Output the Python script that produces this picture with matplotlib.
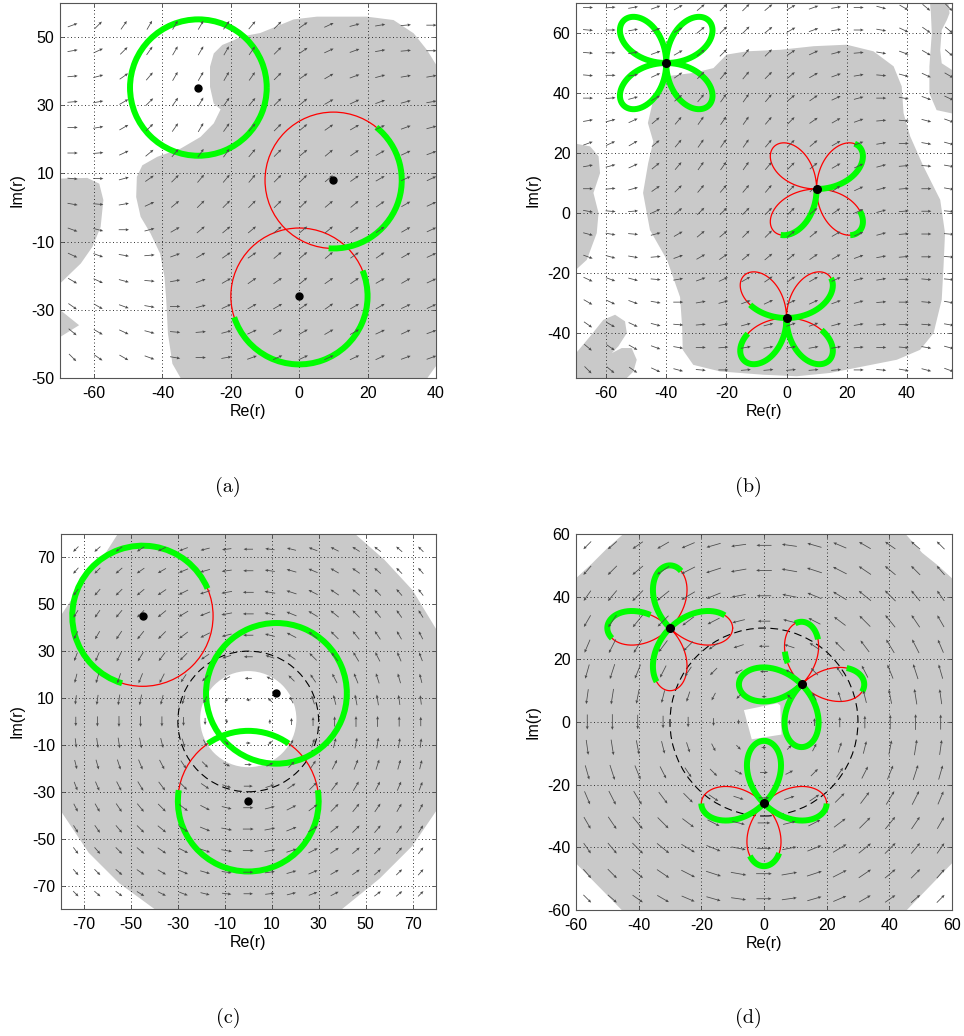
import numpy as np
import matplotlib
matplotlib.use("Agg")
import matplotlib.pyplot as plt
from matplotlib.patches import Arc, Circle

plt.rcParams["font.family"] = ["Liberation Sans", "DejaVu Sans"]
plt.rcParams["axes.unicode_minus"] = False

# ----------------------------------------------------------------------
# Panel (a): circular trajectories, radius 20
# ----------------------------------------------------------------------
A_XLIM = (-70, 40)
A_YLIM = (-50, 60)
A_XTICKS = [-60, -40, -20, 0, 20, 40]
A_YTICKS = [-50, -30, -10, 10, 30, 50]

A_REGION_MAIN_X = [-17.2, -11.4, -5.5, -1.6, 5.2, 19.8, 27.6, 33.5, 37.4, 40.0, 40.0, 37.5,
                   -34.7, -37.1, -38.4, -38.9, -39.4, -40.7, -43.5, -46.4, -47.7, -47.5,
                   -45.9, -41.5, -34.7, -28.9, -25.0, -23.0, -25.0, -26.1, -26.1, -25.0,
                   -22.5, -19.1]
A_REGION_MAIN_Y = [50.1, 51.2, 53.6, 55.2, 56.0, 56.0, 55.0, 51.1, 46.2, 42.0, -46.5, -50.0,
                   -50.0, -45.8, -37.0, -27.2, -20.4, -13.5, -7.6, -2.7, 3.1, 9.0,
                   12.4, 14.9, 17.3, 20.7, 24.7, 28.8, 30.5, 35.4, 41.3, 45.2,
                   47.7, 49.1]
A_REGION_LEFT_X = [-70.0, -62.0, -58.5, -57.3, -58.1, -60.5, -63.9, -70.0]
A_REGION_LEFT_Y = [8.5, 8.7, 7.0, 2.2, -5.7, -11.5, -16.4, -22.3]
A_REGION_SMALL_X = [-70.0, -64.4, -70.0]
A_REGION_SMALL_Y = [-30.0, -34.5, -38.0]

A_FIELD_X = [-66.3, -58.8, -51.3, -43.8, -36.3, -28.8, -21.3, -13.8, -6.3, 1.2, 8.7,
             16.2, 23.7, 31.2, 38.7]
A_FIELD_Y = [53.5, 46.0, 38.5, 31.0, 23.5, 16.0, 8.5, 1.0, -6.5, -14.0, -21.5, -29.0,
             -36.5, -44.0]
A_FIELD_ANGLE = [
    [20, 45, 55, 60, 60, 60, 55, 50, 45, 35, 25, 15, 10, 5, 0],
    [10, 25, 45, 55, 60, 60, 60, 55, 45, 35, 25, 20, 10, 5, 0],
    [5, 15, 35, 50, 60, 60, 60, 55, 45, 35, 30, 20, 15, 10, 10],
    [5, 10, 30, 45, 55, 60, 55, 50, 45, 40, 30, 25, 20, 15, 10],
    [0, 10, 30, 45, 55, 60, 55, 50, 45, 40, 35, 30, 25, 20, 15],
    [0, 5, 25, 40, 50, 55, 55, 50, 45, 40, 40, 35, 30, 25, 20],
    [-5, 0, 15, 35, 45, 50, 50, 50, 45, 45, 40, 35, 30, 25, 25],
    [-10, -5, 10, 25, 40, 45, 45, 45, 45, 45, 40, 40, 35, 30, 25],
    [-20, -15, 0, 15, 30, 40, 40, 40, 40, 40, 40, 35, 35, 30, 25],
    [-25, -20, -10, 5, 20, 30, 35, 35, 40, 40, 40, 35, 35, 30, 25],
    [-30, -25, -15, -5, 10, 20, 30, 35, 35, 40, 35, 35, 30, 30, 25],
    [-35, -30, -20, -10, 0, 15, 25, 30, 30, 35, 35, 30, 30, 25, 25],
    [-40, -30, -25, -15, -5, 5, 15, 25, 30, 30, 30, 30, 25, 25, 20],
    [-45, -35, -30, -20, -10, 0, 10, 20, 25, 25, 25, 25, 25, 20, 20],
]
A_FIELD_LENGTH = 3.0

A_CENTERS_X = [-29.5, 10.0, 0.0]
A_CENTERS_Y = [35.2, 8.0, -26.0]
A_RADIUS = 20
A_THICK_ARCS = [[(0, 360)], [(-94, 51)], [(-162, 22)]]

# ----------------------------------------------------------------------
# Panel (b): four-petal trajectories along the diagonals
# ----------------------------------------------------------------------
B_XLIM = (-70, 55)
B_YLIM = (-55, 70)
B_XTICKS = [-60, -40, -20, 0, 20, 40]
B_YTICKS = [-40, -20, 0, 20, 40, 60]

B_REGION_MAIN_X = [-39.8, -31.0, -24.3, -19.9, -13.2, -2.1, 9.0, 20.0, 28.9, 35.6, 38.3,
                   38.9, 41.1, 45.5, 51.1, 52.7, 52.2, 51.6, 48.9, 44.4, 36.7, 25.6, 14.5,
                   3.4, -7.7, -22.1, -31.0, -34.5, -34.7, -35.4, -39.7, -45.4, -47.7,
                   -46.0, -44.3, -46.1, -44.3, -42.0]
B_REGION_MAIN_Y = [45.6, 46.7, 48.3, 52.8, 53.9, 54.4, 55.6, 56.1, 53.9, 48.9, 42.2,
                   33.3, 25.6, 15.6, 4.4, -6.7, -17.8, -28.9, -40.0, -45.6, -48.9, -51.1,
                   -53.3, -54.4, -53.9, -52.8, -50.6, -45.6, -38.0, -28.0, -15.7, -5.7,
                   6.7, 16.6, 23.8, 30.0, 37.8, 43.3]
B_REGION_LEFT_X = [-70.0, -65.3, -62.5, -62.0, -64.2, -62.5, -63.1, -66.4, -70.0]
B_REGION_LEFT_Y = [23.1, 22.2, 18.9, 13.3, 6.7, 0.0, -6.7, -15.6, -18.9]
B_REGION_HOOK_X = [-70.0, -70.0, -65.3, -60.9, -57.0, -53.7, -53.1, -55.9, -58.1, -54.8,
                   -51.5, -49.8, -50.9, -53.1]
B_REGION_HOOK_Y = [-55.0, -46.7, -41.1, -35.6, -33.9, -36.1, -40.0, -44.4, -46.7, -45.0,
                   -45.0, -48.9, -52.8, -55.0]
B_REGION_EDGE_X = [47.7, 53.8, 54.2, 53.3, 51.6, 51.1, 51.6, 55.0, 55.0, 49.9, 47.5,
                   47.5, 48.3, 48.0]
B_REGION_EDGE_Y = [70.0, 70.0, 66.6, 64.3, 61.0, 54.3, 49.9, 47.7, 33.2, 34.3, 39.9,
                   48.8, 59.9, 66.6]

B_FIELD_X = [-66.0, -58.5, -51.0, -43.5, -36.0, -28.5, -21.0, -13.5, -6.0, 1.5, 9.0,
             16.5, 24.0, 31.5, 39.0, 46.5, 54.0]
B_FIELD_Y = [68.5, 61.0, 53.4, 45.9, 38.3, 30.8, 23.2, 15.7, 8.1, 0.6, -7.0, -14.6,
             -22.1, -29.7, -37.2, -44.8, -52.3]
B_FIELD_ANGLE = [
    [0, 5, 10, 20, 30, 40, 45, 45, 40, 30, 20, 10, 0, -15, -30, -40, -45],
    [-5, 0, 10, 20, 30, 40, 45, 45, 40, 30, 20, 10, 0, -10, -25, -35, -40],
    [-5, 0, 10, 20, 30, 40, 45, 50, 45, 35, 25, 15, 5, -10, -20, -30, -40],
    [-5, 0, 10, 25, 35, 45, 50, 50, 45, 40, 30, 20, 10, -5, -15, -25, -30],
    [0, 5, 15, 30, 40, 50, 55, 55, 50, 40, 35, 25, 15, 0, -10, -20, -25],
    [10, 15, 25, 40, 50, 55, 55, 55, 50, 45, 35, 30, 20, 5, -5, -15, -20],
    [20, 25, 30, 40, 50, 55, 55, 55, 50, 45, 40, 30, 20, 10, 0, -10, -15],
    [10, 15, 25, 40, 50, 55, 55, 55, 50, 45, 40, 30, 25, 15, 5, -5, -10],
    [0, 5, 15, 35, 45, 50, 50, 50, 50, 45, 40, 35, 25, 15, 5, 0, -10],
    [-10, -5, 5, 25, 40, 45, 45, 45, 45, 45, 40, 35, 25, 15, 5, 0, -5],
    [-15, -10, -5, 15, 30, 40, 40, 45, 45, 40, 40, 30, 25, 15, 5, 0, -5],
    [-20, -15, -10, 5, 20, 30, 35, 40, 40, 40, 35, 30, 20, 10, 5, 0, -5],
    [-25, -20, -15, -5, 10, 20, 25, 30, 35, 35, 30, 25, 15, 10, 0, -5, -5],
    [-30, -25, -20, -10, 0, 10, 15, 20, 25, 25, 25, 20, 15, 5, 0, -5, -10],
    [-35, -30, -25, -15, -5, 5, 10, 15, 15, 20, 20, 15, 10, 5, 0, -5, -10],
    [-40, -35, -30, -20, -10, 0, 5, 10, 10, 10, 10, 10, 5, 0, -5, -10, -15],
    [-45, -40, -35, -25, -15, -5, 0, 5, 5, 5, 5, 5, 0, -5, -10, -15, -20],
]
B_FIELD_LENGTH = 3.3

B_CENTERS_X = [-40.0, 10.0, 0.0]
B_CENTERS_Y = [50.0, 8.0, -35.0]
B_PETAL = 20
B_THICK_ARCS = [[(0, 360)],
                [(0, 50), (232, 270), (306, 333)],
                [(0, 42), (160, 180), (202, 341)]]

# ----------------------------------------------------------------------
# Panel (c): circular trajectories, radius 30, in a rotating field
# ----------------------------------------------------------------------
C_XLIM = (-80, 80)
C_YLIM = (-80, 80)
C_TICKS = [-70, -50, -30, -10, 10, 30, 50, 70]
C_REGION_X = [-55.6, -30.0, 0.0, 30.0, 45.5, 58.0, 70.0, 80.0, 84.0, 84.0, 80.0, 70.0,
              56.0, 40.0, 20.0, 0.0, -20.0, -40.0, -55.0, -68.0, -80.0, -84.0, -84.0,
              -80.0, -70.0, -62.0]
C_REGION_Y = [80.0, 86.0, 88.0, 86.0, 80.0, 69.0, 56.0, 39.5, 25.0, -25.0, -38.3, -53.0,
              -67.0, -80.0, -86.0, -88.0, -86.0, -80.0, -69.0, -56.0, -38.0, -25.0, 30.0,
              45.0, 60.0, 70.0]
C_HOLE_CENTER = (0.0, 1.0)
C_HOLE_RADIUS = 20.5
C_REFERENCE_RADIUS = 30

C_FIELD_X = [-73.5, -64.3, -55.1, -45.9, -36.8, -27.6, -18.4, -9.2, 0.0, 9.2, 18.4,
             27.6, 36.8, 45.9, 55.1, 64.3, 73.5]
C_FIELD_Y = [73.5, 64.3, 55.1, 45.9, 36.8, 27.6, 18.4, 9.2, 0.0, -9.2, -18.4, -27.6,
             -36.8, -45.9, -55.1, -64.3, -73.5]
C_FIELD_ANGLE = [
    [225, 221, 217, 212, 207, 201, 194, 187, 180, 173, 166, 159, 153, 148, 143, 139, 135],
    [229, 225, 221, 215, 210, 203, 196, 188, 180, 172, 164, 157, 150, 145, 139, 135, 131],
    [233, 229, 225, 220, 214, 207, 198, 190, 180, 170, 162, 153, 146, 140, 135, 131, 127],
    [238, 235, 230, 225, 219, 211, 202, 191, 180, 169, 158, 149, 141, 135, 130, 125, 122],
    [243, 240, 236, 231, 225, 217, 207, 194, 180, 166, 153, 143, 135, 129, 124, 120, 117],
    [249, 247, 243, 239, 233, 225, 214, 198, 180, 162, 146, 135, 127, 121, 117, 113, 111],
    [256, 254, 252, 248, 243, 236, 225, 207, 180, 153, 135, 124, 117, 112, 108, 106, 104],
    [263, 262, 261, 259, 256, 252, 243, 225, 180, 135, 117, 108, 104, 101, 99, 98, 97],
    [270, 270, 270, 270, 270, 270, 270, 270, 0, 90, 90, 90, 90, 90, 90, 90, 90],
    [277, 278, 279, 281, 284, 288, 297, 315, 0, 45, 63, 72, 76, 79, 81, 82, 83],
    [284, 286, 288, 292, 297, 304, 315, 333, 0, 27, 45, 56, 63, 68, 72, 74, 76],
    [291, 293, 297, 301, 307, 315, 326, 342, 0, 18, 34, 45, 53, 59, 63, 67, 69],
    [297, 300, 304, 309, 315, 323, 333, 346, 0, 14, 27, 37, 45, 51, 56, 60, 63],
    [302, 305, 310, 315, 321, 329, 338, 349, 0, 11, 22, 31, 39, 45, 50, 55, 58],
    [307, 311, 315, 320, 326, 333, 342, 350, 0, 10, 18, 27, 34, 40, 45, 49, 53],
    [311, 315, 319, 325, 330, 337, 344, 352, 0, 8, 16, 23, 30, 35, 41, 45, 49],
    [315, 319, 323, 328, 333, 339, 346, 353, 0, 7, 14, 21, 27, 32, 37, 41, 45],
]
C_FIELD_LENGTH = [
    [3.2, 3.4, 3.5, 3.7, 3.8, 3.9, 4.0, 4.0, 4.0, 4.0, 4.0, 3.9, 3.8, 3.7, 3.5, 3.4, 3.2],
    [3.4, 3.5, 3.7, 3.9, 4.0, 4.2, 4.3, 4.3, 4.3, 4.3, 4.3, 4.2, 4.0, 3.9, 3.7, 3.5, 3.4],
    [3.5, 3.7, 3.9, 4.1, 4.3, 4.4, 4.5, 4.6, 4.6, 4.6, 4.5, 4.4, 4.3, 4.1, 3.9, 3.7, 3.5],
    [3.7, 3.9, 4.1, 4.3, 4.5, 4.6, 4.6, 4.6, 4.6, 4.6, 4.6, 4.6, 4.5, 4.3, 4.1, 3.9, 3.7],
    [3.8, 4.0, 4.3, 4.5, 4.6, 4.6, 4.5, 4.3, 4.3, 4.3, 4.5, 4.6, 4.6, 4.5, 4.3, 4.0, 3.8],
    [3.9, 4.2, 4.4, 4.6, 4.6, 4.4, 4.1, 3.9, 3.8, 3.9, 4.1, 4.4, 4.6, 4.6, 4.4, 4.2, 3.9],
    [4.0, 4.3, 4.5, 4.6, 4.5, 4.1, 3.6, 3.2, 3.0, 3.2, 3.6, 4.1, 4.5, 4.6, 4.5, 4.3, 4.0],
    [4.0, 4.3, 4.6, 4.6, 4.3, 3.9, 3.2, 2.5, 2.0, 2.5, 3.2, 3.9, 4.3, 4.6, 4.6, 4.3, 4.0],
    [4.0, 4.3, 4.6, 4.6, 4.3, 3.8, 3.0, 2.0, 0.0, 2.0, 3.0, 3.8, 4.3, 4.6, 4.6, 4.3, 4.0],
    [4.0, 4.3, 4.6, 4.6, 4.3, 3.9, 3.2, 2.5, 2.0, 2.5, 3.2, 3.9, 4.3, 4.6, 4.6, 4.3, 4.0],
    [4.0, 4.3, 4.5, 4.6, 4.5, 4.1, 3.6, 3.2, 3.0, 3.2, 3.6, 4.1, 4.5, 4.6, 4.5, 4.3, 4.0],
    [3.9, 4.2, 4.4, 4.6, 4.6, 4.4, 4.1, 3.9, 3.8, 3.9, 4.1, 4.4, 4.6, 4.6, 4.4, 4.2, 3.9],
    [3.8, 4.0, 4.3, 4.5, 4.6, 4.6, 4.5, 4.3, 4.3, 4.3, 4.5, 4.6, 4.6, 4.5, 4.3, 4.0, 3.8],
    [3.7, 3.9, 4.1, 4.3, 4.5, 4.6, 4.6, 4.6, 4.6, 4.6, 4.6, 4.6, 4.5, 4.3, 4.1, 3.9, 3.7],
    [3.5, 3.7, 3.9, 4.1, 4.3, 4.4, 4.5, 4.6, 4.6, 4.6, 4.5, 4.4, 4.3, 4.1, 3.9, 3.7, 3.5],
    [3.4, 3.5, 3.7, 3.9, 4.0, 4.2, 4.3, 4.3, 4.3, 4.3, 4.3, 4.2, 4.0, 3.9, 3.7, 3.5, 3.4],
    [3.2, 3.4, 3.5, 3.7, 3.8, 3.9, 4.0, 4.0, 4.0, 4.0, 4.0, 3.9, 3.8, 3.7, 3.5, 3.4, 3.2],
]

C_CENTERS_X = [-45.0, 12.0, 0.0]
C_CENTERS_Y = [45.0, 12.0, -34.0]
C_RADIUS = 30
C_THICK_ARCS = [[(23, 253)], [(0, 360)], [(55, 125), (171, 369)]]

# ----------------------------------------------------------------------
# Panel (d): four-petal trajectories along the axes, rotating field
# ----------------------------------------------------------------------
D_XLIM = (-60, 60)
D_YLIM = (-60, 60)
D_TICKS = [-60, -40, -20, 0, 20, 40, 60]
D_REGION_X = [-44.9, 45.2, 50.5, 55.5, 60.0, 60.0, 45.6, -45.4, -60.0, -60.0, -55.0,
              -50.0]
D_REGION_Y = [60.0, 60.0, 54.0, 50.0, 45.9, -45.1, -60.0, -60.0, -45.1, 45.9, 50.5,
              55.5]
D_HOLE_X = [-6.4, 4.3, 5.2, 5.6, -3.9]
D_HOLE_Y = [3.8, 6.0, 5.3, -4.0, -5.5]
D_REFERENCE_RADIUS = 30

D_FIELD_X = [-56.4, -48.4, -40.3, -32.2, -24.2, -16.1, -8.1, 0.0, 8.1, 16.1, 24.2, 32.2,
             40.3, 48.4, 56.4]
D_FIELD_Y = [56.4, 48.4, 40.3, 32.2, 24.2, 16.1, 8.1, 0.0, -8.1, -16.1, -24.2, -32.2,
             -40.3, -48.4, -56.4]
D_FIELD_ANGLE = [
    [225, 221, 215, 210, 203, 196, 188, 180, 172, 164, 157, 150, 145, 139, 135],
    [229, 225, 220, 214, 207, 198, 190, 180, 170, 162, 153, 146, 140, 135, 131],
    [235, 230, 225, 219, 211, 202, 191, 180, 169, 158, 149, 141, 135, 130, 125],
    [240, 236, 231, 225, 217, 207, 194, 180, 166, 153, 143, 135, 129, 124, 120],
    [247, 243, 239, 233, 225, 214, 198, 180, 162, 146, 135, 127, 121, 117, 113],
    [254, 252, 248, 243, 236, 225, 207, 180, 153, 135, 124, 117, 112, 108, 106],
    [262, 261, 259, 256, 252, 243, 225, 180, 135, 117, 108, 104, 101, 99, 98],
    [270, 270, 270, 270, 270, 270, 270, 0, 90, 90, 90, 90, 90, 90, 90],
    [278, 279, 281, 284, 288, 297, 315, 0, 45, 63, 72, 76, 79, 81, 82],
    [286, 288, 292, 297, 304, 315, 333, 0, 27, 45, 56, 63, 68, 72, 74],
    [293, 297, 301, 307, 315, 326, 342, 0, 18, 34, 45, 53, 59, 63, 67],
    [300, 304, 309, 315, 323, 333, 346, 0, 14, 27, 37, 45, 51, 56, 60],
    [305, 310, 315, 321, 329, 338, 349, 0, 11, 22, 31, 39, 45, 50, 55],
    [311, 315, 320, 326, 333, 342, 350, 0, 10, 18, 27, 34, 40, 45, 49],
    [315, 319, 325, 330, 337, 344, 352, 0, 8, 16, 23, 30, 35, 41, 45],
]
D_FIELD_LENGTH = [
    [3.5, 3.8, 4.0, 4.3, 4.5, 4.7, 4.8, 4.8, 4.8, 4.7, 4.5, 4.3, 4.0, 3.8, 3.5],
    [3.8, 4.1, 4.4, 4.7, 4.9, 5.0, 5.0, 5.0, 5.0, 5.0, 4.9, 4.7, 4.4, 4.1, 3.8],
    [4.0, 4.4, 4.8, 5.0, 5.0, 4.8, 4.6, 4.6, 4.6, 4.8, 5.0, 5.0, 4.8, 4.4, 4.0],
    [4.3, 4.7, 5.0, 4.9, 4.6, 4.3, 4.1, 4.0, 4.1, 4.3, 4.6, 4.9, 5.0, 4.7, 4.3],
    [4.5, 4.9, 5.0, 4.6, 4.2, 3.7, 3.4, 3.3, 3.4, 3.7, 4.2, 4.6, 5.0, 4.9, 4.5],
    [4.7, 5.0, 4.8, 4.3, 3.7, 3.2, 2.7, 2.5, 2.7, 3.2, 3.7, 4.3, 4.8, 5.0, 4.7],
    [4.8, 5.0, 4.6, 4.1, 3.4, 2.7, 2.0, 1.5, 2.0, 2.7, 3.4, 4.1, 4.6, 5.0, 4.8],
    [4.8, 5.0, 4.6, 4.0, 3.3, 2.5, 1.5, 0.0, 1.5, 2.5, 3.3, 4.0, 4.6, 5.0, 4.8],
    [4.8, 5.0, 4.6, 4.1, 3.4, 2.7, 2.0, 1.5, 2.0, 2.7, 3.4, 4.1, 4.6, 5.0, 4.8],
    [4.7, 5.0, 4.8, 4.3, 3.7, 3.2, 2.7, 2.5, 2.7, 3.2, 3.7, 4.3, 4.8, 5.0, 4.7],
    [4.5, 4.9, 5.0, 4.6, 4.2, 3.7, 3.4, 3.3, 3.4, 3.7, 4.2, 4.6, 5.0, 4.9, 4.5],
    [4.3, 4.7, 5.0, 4.9, 4.6, 4.3, 4.1, 4.0, 4.1, 4.3, 4.6, 4.9, 5.0, 4.7, 4.3],
    [4.0, 4.4, 4.8, 5.0, 5.0, 4.8, 4.6, 4.6, 4.6, 4.8, 5.0, 5.0, 4.8, 4.4, 4.0],
    [3.8, 4.1, 4.4, 4.7, 4.9, 5.0, 5.0, 5.0, 5.0, 5.0, 4.9, 4.7, 4.4, 4.1, 3.8],
    [3.5, 3.8, 4.0, 4.3, 4.5, 4.7, 4.8, 4.8, 4.8, 4.7, 4.5, 4.3, 4.0, 3.8, 3.5],
]

D_CENTERS_X = [-30.0, 12.0, 0.0]
D_CENTERS_Y = [30.0, 12.0, -26.0]
D_PETAL = 20
D_THICK_ARCS = [[(13, 45), (79, 135), (146, 190), (225, 256)],
                [(-7, 20), (70, 96), (117, 123), (135, 315)],
                [(45, 135), (180, 225), (255, 287), (315, 360)]]

# ----------------------------------------------------------------------
# Styling
# ----------------------------------------------------------------------
SHADE = "#c9c9c9"
GREEN = "#00ff00"
RED = "#ff0000"
ARROW = "#4a4a4a"
THICK_LW = 4.3
THIN_LW = 0.9
LABEL_SIZE = 11.5

fig = plt.figure(figsize=(9.64, 10.36), dpi=100)
ax_a = fig.add_axes([0.0622, 0.6351, 0.3900, 0.3620])
ax_b = fig.add_axes([0.5975, 0.6351, 0.3900, 0.3620])
ax_c = fig.add_axes([0.0628, 0.1226, 0.3895, 0.3620])
ax_d = fig.add_axes([0.5975, 0.1216, 0.3900, 0.3629])


def style_axes(ax, xlim, ylim, xticks, yticks):
    ax.set_xlim(xlim)
    ax.set_ylim(ylim)
    ax.set_xticks(xticks)
    ax.set_yticks(yticks)
    ax.set_xticklabels([str(v) for v in xticks])
    ax.set_yticklabels([str(v) for v in yticks])
    ax.grid(True, linestyle=(0, (1, 2.6)), linewidth=0.7, color="#333333")
    ax.tick_params(direction="in", length=3, width=0.6, top=True, right=True,
                   labelsize=LABEL_SIZE, colors="#444444", labelcolor="black")
    ax.tick_params(axis="x", pad=6)
    ax.tick_params(axis="y", pad=4)
    for sp in ax.spines.values():
        sp.set_color("#555555")
        sp.set_linewidth(0.8)
    ax.set_xlabel("Re(r)", fontsize=LABEL_SIZE, labelpad=2)
    ax.set_ylabel("Im(r)", fontsize=LABEL_SIZE, labelpad=5)


def draw_field(ax, xs, ys, angles, lengths):
    X, Y = np.meshgrid(np.asarray(xs, float), np.asarray(ys, float))
    ang = np.deg2rad(np.asarray(angles, float))
    L = np.broadcast_to(np.asarray(lengths, float), ang.shape)
    keep = L > 0
    U = L * np.cos(ang)
    V = L * np.sin(ang)
    ax.quiver(X[keep], Y[keep], U[keep], V[keep], angles="xy", scale_units="xy",
              scale=1, pivot="middle", color=ARROW, width=0.0021, headwidth=3.8,
              headlength=4.2, headaxislength=3.8, minlength=0, zorder=5)


def draw_circles(ax, xs, ys, radius, thick_arcs):
    for cx, cy, arcs in zip(xs, ys, thick_arcs):
        ax.add_patch(Circle((cx, cy), radius, fill=False, edgecolor=RED,
                            linewidth=THIN_LW, zorder=3))
        for t1, t2 in arcs:
            ax.add_patch(Arc((cx, cy), 2 * radius, 2 * radius, theta1=t1, theta2=t2,
                             color=GREEN, linewidth=THICK_LW, zorder=3.5))
        ax.plot([cx], [cy], "o", color="black", markersize=5, zorder=6)


def rose_points(cx, cy, size, t1, t2, kind):
    t = np.deg2rad(np.linspace(t1, t2, max(int(abs(t2 - t1) * 4), 8)))
    if kind == "diagonal":
        r = size * np.abs(np.sin(2 * t))
    else:
        r = size * np.abs(np.cos(2 * t))
    return cx + r * np.cos(t), cy + r * np.sin(t)


def draw_roses(ax, xs, ys, size, thick_arcs, kind):
    for cx, cy, arcs in zip(xs, ys, thick_arcs):
        px, py = rose_points(cx, cy, size, 0, 360, kind)
        ax.plot(px, py, color=RED, linewidth=THIN_LW, zorder=3)
        for t1, t2 in arcs:
            px, py = rose_points(cx, cy, size, t1, t2, kind)
            ax.plot(px, py, color=GREEN, linewidth=THICK_LW, zorder=3.5,
                    solid_capstyle="butt", solid_joinstyle="round")
        ax.plot([cx], [cy], "o", color="black", markersize=5.5, zorder=6)


# (a)
style_axes(ax_a, A_XLIM, A_YLIM, A_XTICKS, A_YTICKS)
for rx, ry in [(A_REGION_MAIN_X, A_REGION_MAIN_Y), (A_REGION_LEFT_X, A_REGION_LEFT_Y),
               (A_REGION_SMALL_X, A_REGION_SMALL_Y)]:
    ax_a.fill(rx, ry, color=SHADE, linewidth=0, zorder=0.5)
draw_field(ax_a, A_FIELD_X, A_FIELD_Y, A_FIELD_ANGLE, A_FIELD_LENGTH)
draw_circles(ax_a, A_CENTERS_X, A_CENTERS_Y, A_RADIUS, A_THICK_ARCS)

# (b)
style_axes(ax_b, B_XLIM, B_YLIM, B_XTICKS, B_YTICKS)
for rx, ry in [(B_REGION_MAIN_X, B_REGION_MAIN_Y), (B_REGION_LEFT_X, B_REGION_LEFT_Y),
               (B_REGION_HOOK_X, B_REGION_HOOK_Y), (B_REGION_EDGE_X, B_REGION_EDGE_Y)]:
    ax_b.fill(rx, ry, color=SHADE, linewidth=0, zorder=0.5)
draw_field(ax_b, B_FIELD_X, B_FIELD_Y, B_FIELD_ANGLE, B_FIELD_LENGTH)
draw_roses(ax_b, B_CENTERS_X, B_CENTERS_Y, B_PETAL, B_THICK_ARCS, "diagonal")

# (c)
style_axes(ax_c, C_XLIM, C_YLIM, C_TICKS, C_TICKS)
ax_c.fill(C_REGION_X, C_REGION_Y, color=SHADE, linewidth=0, zorder=0.5)
ax_c.add_patch(Circle(C_HOLE_CENTER, C_HOLE_RADIUS, facecolor="white",
                      edgecolor="none", zorder=0.6))
ax_c.add_patch(Circle((0, 0), C_REFERENCE_RADIUS, fill=False, edgecolor="black",
                      linewidth=0.8, linestyle=(0, (7, 4)), zorder=2.5))
draw_field(ax_c, C_FIELD_X, C_FIELD_Y, C_FIELD_ANGLE, C_FIELD_LENGTH)
draw_circles(ax_c, C_CENTERS_X, C_CENTERS_Y, C_RADIUS, C_THICK_ARCS)

# (d)
style_axes(ax_d, D_XLIM, D_YLIM, D_TICKS, D_TICKS)
ax_d.fill(D_REGION_X, D_REGION_Y, color=SHADE, linewidth=0, zorder=0.5)
ax_d.fill(D_HOLE_X, D_HOLE_Y, color="white", linewidth=0, zorder=0.6)
ax_d.add_patch(Circle((0, 0), D_REFERENCE_RADIUS, fill=False, edgecolor="black",
                      linewidth=0.8, linestyle=(0, (7, 4)), zorder=2.5))
draw_field(ax_d, D_FIELD_X, D_FIELD_Y, D_FIELD_ANGLE, D_FIELD_LENGTH)
draw_roses(ax_d, D_CENTERS_X, D_CENTERS_Y, D_PETAL, D_THICK_ARCS, "axial")

# sub-figure captions
for x, y, s in [(0.2365, 0.5300, "(a)"), (0.776, 0.5300, "(b)"),
                (0.2365, 0.0174, "(c)"), (0.776, 0.0174, "(d)")]:
    fig.text(x, y, s, family="cmr10", fontsize=14.5, ha="center", va="center")

fig.savefig("out.png", dpi=100)
